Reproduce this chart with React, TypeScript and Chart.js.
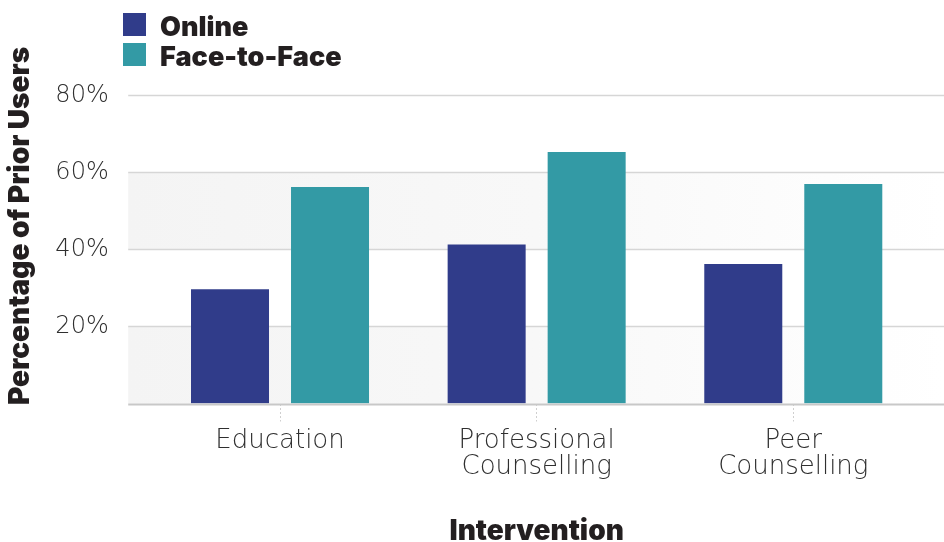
import React, { useEffect, useRef } from "react";
import { Chart, registerables } from "chart.js";

Chart.register(...registerables);

const categories: string[][] = [["Education"], ["Professional", "Counselling"], ["Peer", "Counselling"]];
const onlineValues: number[] = [29.7, 41.3, 36.2];
const faceValues: number[] = [56.2, 65.3, 57.0];
const yTicks: number[] = [0, 20, 40, 60, 80];
const seriesNames: string[] = ["Online", "Face-to-Face"];
const seriesColors: string[] = ["#303c8a", "#339aa5"];

const HEAVY = "'Inter', 'DejaVu Sans', sans-serif";
const LIGHT = "'DejaVu Sans', sans-serif";

const backgroundPlugin = {
  id: "bandsAndGrid",
  beforeDatasetsDraw(chart: any) {
    const { ctx, chartArea, scales } = chart;
    const y = scales.y;
    const left = chartArea.left - 23.5;
    const right = chart.width;
    ctx.save();
    const grad = ctx.createLinearGradient(left, 0, right, 0);
    grad.addColorStop(0, "#f4f4f4");
    grad.addColorStop(0.5, "#f8f8f8");
    grad.addColorStop(1, "#ffffff");
    for (let i = 1; i < yTicks.length; i += 2) {
      const yTop = y.getPixelForValue(yTicks[i]);
      const yBot = y.getPixelForValue(yTicks[i - 1]);
      ctx.fillStyle = grad;
      ctx.fillRect(left, yTop, right - left, yBot - yTop);
    }
    ctx.strokeStyle = "#d6d6d6";
    ctx.lineWidth = 1.5;
    for (const t of yTicks) {
      if (t === 0) continue;
      const py = Math.round(y.getPixelForValue(t)) + 0.5;
      ctx.beginPath();
      ctx.moveTo(left, py);
      ctx.lineTo(right, py);
      ctx.stroke();
    }
    ctx.restore();
  },
  afterDatasetsDraw(chart: any) {
    const { ctx, chartArea, scales } = chart;
    const py = scales.y.getPixelForValue(0) + 1;
    ctx.save();
    ctx.strokeStyle = "#c8c8c8";
    ctx.lineWidth = 2;
    ctx.beginPath();
    ctx.moveTo(chartArea.left - 23.5, py);
    ctx.lineTo(chart.width, py);
    ctx.stroke();
    ctx.restore();
  },
};

export default function App() {
  const ref = useRef<HTMLCanvasElement | null>(null);
  useEffect(() => {
    if (!ref.current) return;
    const chart = new Chart(ref.current, {
      type: "bar",
      data: {
        labels: categories,
        datasets: [
          { label: seriesNames[0], data: onlineValues, backgroundColor: seriesColors[0] },
          { label: seriesNames[1], data: faceValues, backgroundColor: seriesColors[1] },
        ],
      },
      options: {
        animation: false,
        responsive: true,
        maintainAspectRatio: false,
        datasets: { bar: { categoryPercentage: 0.7794, barPercentage: 0.78 } },
        layout: { padding: { top: 48.5, right: 22.4, left: 0, bottom: 0 } },
        plugins: { legend: { display: false }, tooltip: { enabled: false } },
        scales: {
          x: {
            grid: {
              display: true,
              offset: false,
              drawOnChartArea: false,
              drawTicks: true,
              tickLength: 18,
              tickColor: "#cfcfcf",
              tickBorderDash: [2, 2],
              tickWidth: 1,
            },
            border: { display: false },
            ticks: {
              padding: 6,
              color: "#2f2f2f",
              font: { family: LIGHT, size: 26, weight: "300", lineHeight: 1.03 },
              maxRotation: 0,
              autoSkip: false,
            },
            title: {
              display: true,
              text: "Intervention",
              color: "#231f20",
              font: { family: HEAVY, size: 28, weight: "900", lineHeight: 0.75 },
              padding: { top: 0, bottom: 0 },
            },
            afterFit(scale: any) {
              scale.height = 138.5;
              scale.paddingLeft = 0;
              scale.paddingRight = 0;
            },
          },
          y: {
            min: 0,
            max: 92.2,
            grid: { display: false, drawTicks: false },
            border: { display: false },
            afterBuildTicks(scale: any) {
              scale.ticks = yTicks.map((v) => ({ value: v }));
            },
            ticks: {
              padding: 43,
              color: "#2f2f2f",
              font: { family: LIGHT, size: 24, weight: "300" },
              callback: (v: any) => (Number(v) > 0 ? v + "%" : ""),
            },
            title: {
              display: true,
              text: "Percentage of Prior Users",
              color: "#231f20",
              font: { family: HEAVY, size: 28, weight: "900", lineHeight: 1.2 },
              padding: { top: 4, bottom: 0 },
            },
            afterFit(scale: any) {
              scale.width = 151.7;
              scale.paddingTop = 0;
              scale.paddingBottom = 0;
            },
          },
        },
      },
      plugins: [backgroundPlugin],
    });
    return () => chart.destroy();
  }, []);

  const legendRow = (i: number, top: number) => (
    <div
      key={i}
      style={{ position: "absolute", left: 123, top, height: 23, display: "flex", alignItems: "center" }}
    >
      <div style={{ width: 23, height: 23, background: seriesColors[i] }} />
      <span
        style={{
          marginLeft: 14,
          fontFamily: HEAVY,
          fontWeight: 900,
          fontSize: 27,
          color: "#231f20",
          lineHeight: "23px",
          position: "relative",
          top: 2,
        }}
      >
        {seriesNames[i]}
      </span>
    </div>
  );

  return (
    <div style={{ position: "absolute", left: 0, top: 0, width: 944, height: 542, background: "#fff" }}>
      <canvas ref={ref} />
      {legendRow(0, 13)}
      {legendRow(1, 43)}
    </div>
  );
}
